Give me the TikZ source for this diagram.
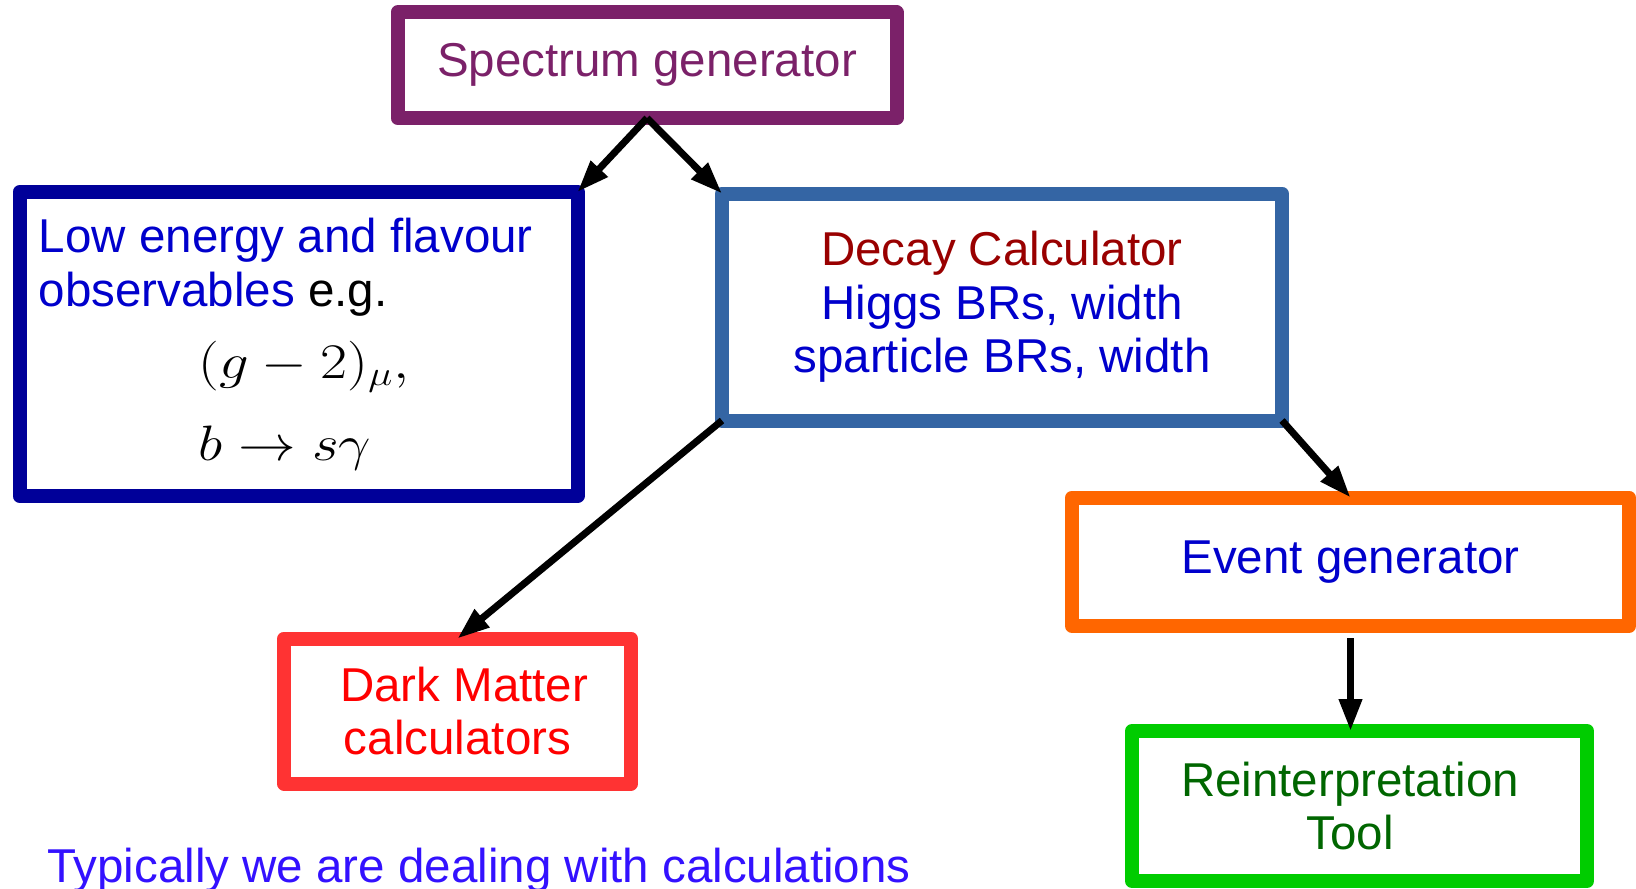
\documentclass[tikz,border=0pt]{standalone}
\usepackage[no-math]{fontspec}
\setmainfont{Liberation Sans}
\usetikzlibrary{arrows.meta}

\definecolor{specpurple}{HTML}{7B2169}
\definecolor{lowblue}{HTML}{000099}
\definecolor{decayblue}{HTML}{3465A4}
\definecolor{eventorange}{HTML}{FF6600}
\definecolor{darkred}{HTML}{FF3333}
\definecolor{reintgreen}{HTML}{00CC00}
\definecolor{textblue}{HTML}{0000CC}
\definecolor{textdarkred}{HTML}{990000}
\definecolor{textred}{HTML}{FF0000}
\definecolor{textgreen}{HTML}{006600}
\definecolor{noteblue}{HTML}{3311FF}

\tikzset{
  box/.style={draw, line width=7pt, line join=round, outer sep=0pt,
    inner sep=0pt, align=center, font=\fontsize{23.75}{26.75}\selectfont},
  plain/.style={inner sep=0pt, anchor=base west, font=\fontsize{23.75}{26.75}\selectfont},
  mathline/.style={inner sep=0pt, anchor=base west, font=\fontsize{27}{30}\selectfont},
  flow/.style={-{Triangle[length=16pt,width=11pt]}, line width=3.5pt},
}

\begin{document}
\begin{tikzpicture}[x=0.5pt,y=-0.5pt]
  \useasboundingbox (0,0) rectangle (1636,888);

  \node[box, draw=specpurple, text=specpurple, minimum width=249.5pt, minimum height=52.75pt]
    (spec) at (647,65.25) {Spectrum generator};
  \node[box, draw=lowblue, minimum width=279pt, minimum height=152pt]
    (lowe) at (298.5,344) {};
  \node[box, draw=decayblue, text=textblue, minimum width=280pt, minimum height=113.5pt]
    (decay) at (1002,307) {\textcolor{textdarkred}{Decay Calculator}\\Higgs BRs, width\\sparticle BRs, width};
  \node[box, draw=eventorange, text=textblue, minimum width=278.5pt, minimum height=64.25pt]
    (event) at (1350.5,561.75) {Event generator};
  \node[box, draw=darkred, text=textred, minimum width=173.5pt, minimum height=72.5pt]
    (dark) at (457.5,711) {\hspace*{.28em}Dark Matter\\calculators};
  \node[box, draw=reintgreen, text=textgreen, minimum width=227.5pt, minimum height=75pt]
    (reint) at (1359.5,806) {Reinterpretation\hspace*{.4em}\\Tool\hspace*{.4em}};

  % text of the low energy box
  \node[plain, text=textblue] (low1) at (38.6,252.6) {Low energy and flavour};
  \node[plain, text=textblue] (low2) at (38.6,306) {observables \textcolor{black}{e.g.}};
  \node[mathline] (gmu) at (198,378) {\scalebox{1.18}[1]{$(g-2)_\mu,$}};
  \node[mathline] (bsg) at (198,460) {\scalebox{1.16}[1]{$b\to s\gamma$}};

  \node[plain, text=noteblue] (note) at (47,882) {Typically we are dealing with calculations};

  \begin{scope}[flow]
    \draw (spec.south) -- (lowe.north east);
    \draw (spec.south) -- (decay.north west);
    \draw (decay.south west) -- (dark.north);
    \draw (decay.south east) -- (event.north);
    \draw[shorten <=6pt] (event.south) -- (event.south |- reint.north);
  \end{scope}
\end{tikzpicture}
\end{document}
